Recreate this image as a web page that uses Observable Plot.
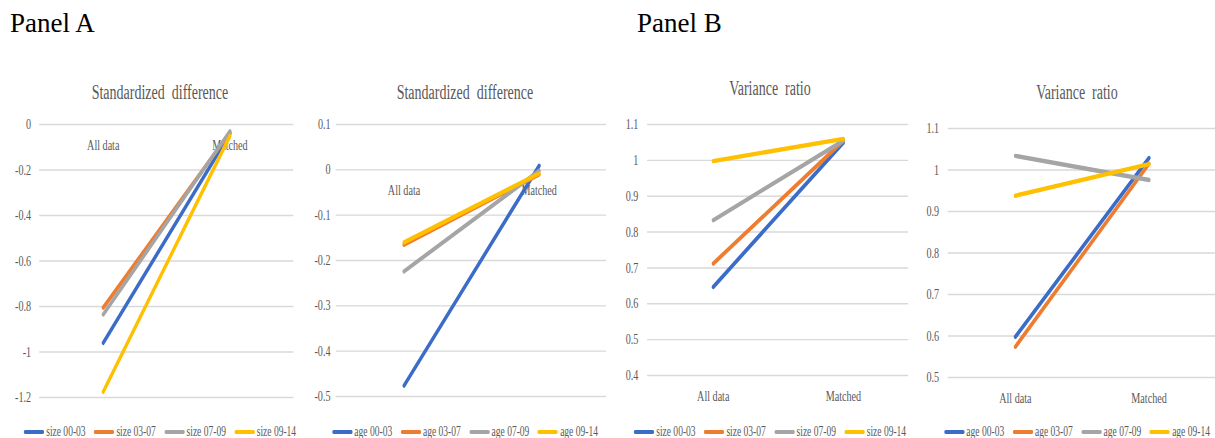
<!DOCTYPE html>
<html>
<head>
<meta charset="utf-8">
<script src="https://cdn.jsdelivr.net/npm/d3@7"></script>
<script src="https://cdn.jsdelivr.net/npm/@observablehq/plot@0.6"></script>
<style>
  html, body { margin: 0; padding: 0; background: #ffffff; overflow: hidden; }
  #root { position: relative; width: 1215px; height: 438px; background: #fff; font-family: "Liberation Serif", Tinos, "Times New Roman", Times, serif; }
  .heading { position: absolute; top: 10px; font-size: 27px; line-height: 27px; color: #000; }
  .panel { position: absolute; top: 0; height: 438px; transform: scaleX(0.7); transform-origin: 0 0; }
  .ptitle { position: absolute; left: 0; right: 0; text-align: center; font-size: 20px; line-height: 20px; color: #595959; word-spacing: 5px; white-space: nowrap; }
  .legend { position: absolute; left: 0; right: 0; top: 424px; display: flex; justify-content: center; align-items: center; font-size: 13.6px; line-height: 16px; color: #595959; white-space: nowrap; }
  .legend .item { display: flex; align-items: center; margin: 0 6px; }
  .legend .sw { width: 29px; height: 4.5px; border-radius: 2px; margin-right: 3px; }
  .panel svg { position: absolute; left: 0; top: 110px; }
</style>
</head>
<body>
<div id="root"></div>
<script>
// ---------- data ----------
const categories = ["All data", "Matched"];
const sizeGroups = ["size 00-03", "size 03-07", "size 07-09", "size 09-14"];
const ageGroups = ["age 00-03", "age 03-07", "age 07-09", "age 09-14"];
const seriesColors = ["#3a6cc8", "#ed7d31", "#a5a5a5", "#ffc000"];

// Panel A: standardized difference
const sdSizeAll = [-0.96, -0.805, -0.835, -1.175];
const sdSizeMatched = [-0.04, -0.035, -0.03, -0.05];
const sdAgeAll = [-0.476, -0.165, -0.224, -0.16];
const sdAgeMatched = [0.009, -0.01, -0.002, -0.008];

// Panel B: variance ratio
const vrSizeAll = [0.647, 0.712, 0.833, 0.998];
const vrSizeMatched = [1.05, 1.055, 1.055, 1.06];
const vrAgeAll = [0.598, 0.574, 1.034, 0.938];
const vrAgeMatched = [1.029, 1.015, 0.976, 1.014];

// tick values
const sdSizeTicks = [0, -0.2, -0.4, -0.6, -0.8, -1, -1.2];
const sdAgeTicks = [0.1, 0, -0.1, -0.2, -0.3, -0.4, -0.5];
const vrSizeTicks = [1.1, 1, 0.9, 0.8, 0.7, 0.6, 0.5, 0.4];
const vrAgeTicks = [1.1, 1, 0.9, 0.8, 0.7, 0.6, 0.5];

const panelHeadings = ["Panel A", "Panel B"];
const panelTitles = ["Standardized difference", "Standardized difference", "Variance ratio", "Variance ratio"];

// ---------- helpers ----------
function rowsFor(groups, all, matched) {
  return groups.flatMap((g, i) => [
    {series: g, cat: categories[0], value: all[i]},
    {series: g, cat: categories[1], value: matched[i]}
  ]);
}
const fmt = d => String(+d.toFixed(2));
const serif = "'Liberation Serif', Tinos, 'Times New Roman', Times, serif";

const root = document.getElementById("root");

// headings
[[panelHeadings[0], 10], [panelHeadings[1], 637]].forEach(([t, x]) => {
  const h = document.createElement("div");
  h.className = "heading";
  h.style.left = x + "px";
  h.textContent = t;
  root.appendChild(h);
});

const layouts = [
  {left: 0,   cw: 457, titleTop: 82, w: 430, ml: 56, mr: 11, mt: 14, mb: 18, pad: 12, base: 0},
  {left: 305, cw: 457, titleTop: 82, w: 440, ml: 44, mr: 10, mt: 14, mb: 19, pad: 8, base: 0},
  {left: 610, cw: 457, titleTop: 78, w: 436, ml: 53, mr: 10, mt: 14, mb: 40, pad: 13, base: 0.4},
  {left: 910, cw: 477, titleTop: 82, w: 440, ml: 54, mr: 4,  mt: 18, mb: 38, pad: 13, base: 0.5}
];
const panelData = [
  {groups: sizeGroups, all: sdSizeAll, matched: sdSizeMatched, ticks: sdSizeTicks},
  {groups: ageGroups, all: sdAgeAll, matched: sdAgeMatched, ticks: sdAgeTicks},
  {groups: sizeGroups, all: vrSizeAll, matched: vrSizeMatched, ticks: vrSizeTicks},
  {groups: ageGroups, all: vrAgeAll, matched: vrAgeMatched, ticks: vrAgeTicks}
];

panelData.forEach((pd, k) => {
  const L = layouts[k];
  const div = document.createElement("div");
  div.className = "panel";
  div.style.left = L.left + "px";
  div.style.width = L.cw + "px";

  const title = document.createElement("div");
  title.className = "ptitle";
  title.style.top = L.titleTop + "px";
  title.textContent = panelTitles[k];
  div.appendChild(title);

  const rows = rowsFor(pd.groups, pd.all, pd.matched);
  const yDomain = d3.extent(pd.ticks);

  const plot = Plot.plot({
    width: L.w,
    height: 305,
    marginLeft: L.ml,
    marginRight: L.mr,
    marginTop: L.mt,
    marginBottom: L.mb,
    style: {fontFamily: serif, background: "transparent", overflow: "visible"},
    x: {type: "point", domain: categories, padding: 0.5, axis: null},
    y: {domain: yDomain, label: null},
    color: {domain: pd.groups, range: seriesColors},
    marks: [
      Plot.gridY(pd.ticks, {stroke: "#d9d9d9", strokeOpacity: 1, strokeWidth: 1.4}),
      Plot.axisY(pd.ticks, {tickSize: 0, tickPadding: L.pad, fontSize: 14.5, fill: "#595959", tickFormat: fmt, label: null}),
      Plot.text(categories, {x: d => d, y: () => L.base, dy: 21, fontSize: 14.5, fill: "#595959"}),
      Plot.line(rows, {x: "cat", y: "value", z: "series", stroke: "series", strokeWidth: 4.4, strokeLinecap: "round"})
    ]
  });
  div.appendChild(plot);

  const legend = document.createElement("div");
  legend.className = "legend";
  pd.groups.forEach((g, i) => {
    const item = document.createElement("div");
    item.className = "item";
    const sw = document.createElement("div");
    sw.className = "sw";
    sw.style.background = seriesColors[i];
    const tx = document.createElement("span");
    tx.textContent = g;
    item.appendChild(sw);
    item.appendChild(tx);
    legend.appendChild(item);
  });
  div.appendChild(legend);

  root.appendChild(div);
});
</script>
</body>
</html>
